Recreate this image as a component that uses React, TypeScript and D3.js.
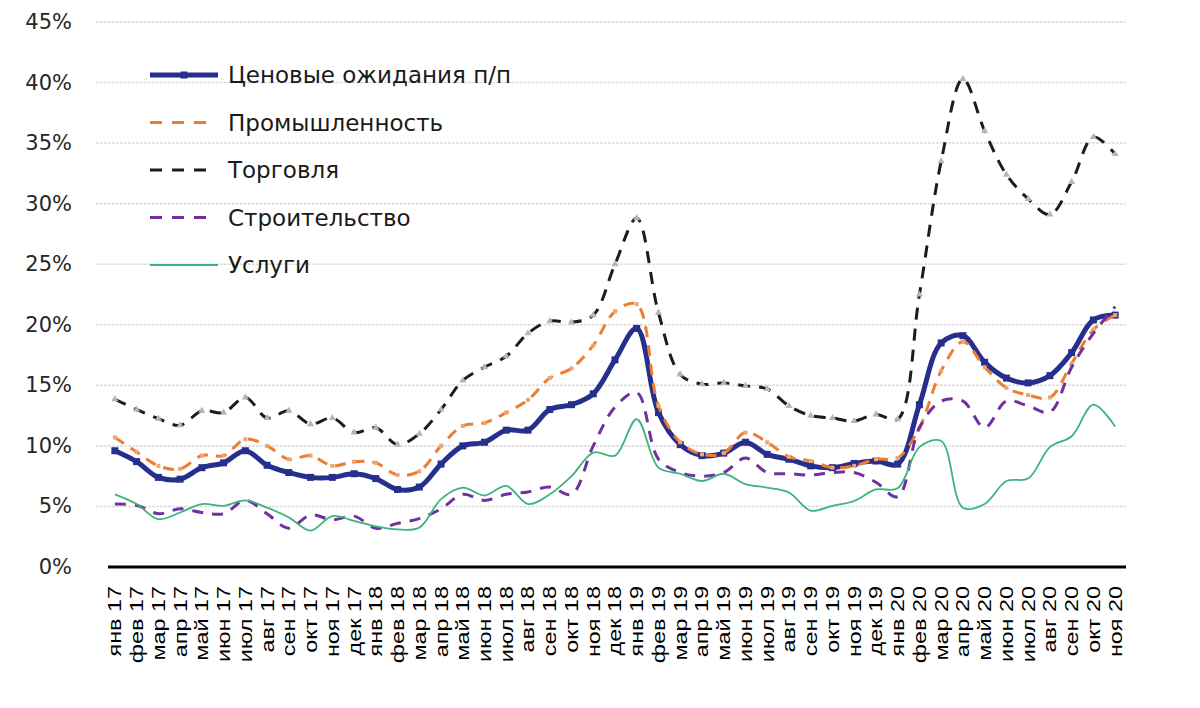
import { useEffect, useRef } from 'react';
import * as d3 from 'd3';

// Monthly labels, Jan 2017 – Nov 2020
const labels = [
  'янв 17', 'фев 17', 'мар 17', 'апр 17', 'май 17', 'июн 17', 'июл 17', 'авг 17', 'сен 17', 'окт 17', 'ноя 17', 'дек 17',
  'янв 18', 'фев 18', 'мар 18', 'апр 18', 'май 18', 'июн 18', 'июл 18', 'авг 18', 'сен 18', 'окт 18', 'ноя 18', 'дек 18',
  'янв 19', 'фев 19', 'мар 19', 'апр 19', 'май 19', 'июн 19', 'июл 19', 'авг 19', 'сен 19', 'окт 19', 'ноя 19', 'дек 19',
  'янв 20', 'фев 20', 'мар 20', 'апр 20', 'май 20', 'июн 20', 'июл 20', 'авг 20', 'сен 20', 'окт 20', 'ноя 20',
];

const priceExp = [
  9.6, 8.7, 7.4, 7.25, 8.2, 8.6, 9.6, 8.4, 7.8, 7.4, 7.4, 7.7,
  7.3, 6.4, 6.6, 8.5, 10.0, 10.3, 11.3, 11.3, 13.0, 13.4, 14.3, 17.1,
  19.7, 12.75, 10.1, 9.2, 9.4, 10.3, 9.3, 8.9, 8.35, 8.2, 8.55, 8.75,
  8.5, 13.4, 18.5, 19.1, 16.9, 15.6, 15.2, 15.8, 17.7, 20.4, 20.8,
];

const industry = [
  10.7, 9.5, 8.35, 8.1, 9.2, 9.2, 10.55, 10.0, 8.9, 9.2, 8.35, 8.7,
  8.6, 7.6, 7.9, 10.0, 11.65, 11.9, 12.75, 13.8, 15.6, 16.4, 18.3, 21.1,
  21.7, 13.3, 10.3, 9.3, 9.4, 11.1, 10.3, 9.1, 8.75, 8.2, 8.35, 8.9,
  9.0, 11.5, 16.2, 18.6, 16.5, 14.8, 14.2, 14.0, 16.8, 19.6, 20.8,
];

const trade = [
  13.85, 13.0, 12.25, 11.7, 12.9, 12.75, 14.0, 12.3, 12.9, 11.8, 12.3, 11.1,
  11.5, 10.1, 11.0, 13.0, 15.4, 16.5, 17.4, 19.3, 20.3, 20.2, 20.8, 25.0,
  28.8, 21.0, 15.9, 15.1, 15.2, 14.95, 14.7, 13.3, 12.5, 12.3, 12.05, 12.6,
  12.2, 22.5, 33.5, 40.3, 36.0, 32.4, 30.4, 29.1, 31.8, 35.5, 34.1,
];

const construction = [
  5.2, 5.1, 4.4, 4.8, 4.5, 4.4, 5.5, 4.4, 3.2, 4.3, 3.9, 4.2,
  3.2, 3.6, 4.0, 4.8, 6.0, 5.5, 6.0, 6.2, 6.6, 6.0, 10.0, 13.2,
  14.4, 8.9, 7.8, 7.5, 7.8, 9.0, 7.8, 7.7, 7.6, 7.8, 7.8, 7.0,
  5.8, 11.5, 13.7, 13.7, 11.5, 13.7, 13.3, 12.8, 16.5, 19.3, 21.5,
];

const services = [
  6.0, 5.2, 3.95, 4.5, 5.2, 5.05, 5.5, 4.9, 4.1, 3.0, 4.2, 3.8,
  3.35, 3.1, 3.25, 5.6, 6.55, 5.9, 6.7, 5.2, 6.0, 7.5, 9.45, 9.2,
  12.2, 8.2, 7.7, 7.1, 7.7, 6.85, 6.55, 6.15, 4.65, 5.05, 5.45, 6.4,
  6.5, 9.9, 10.4, 4.9, 5.2, 7.1, 7.3, 9.9, 10.8, 13.4, 11.6,
];

const yTicks = [0, 5, 10, 15, 20, 25, 30, 35, 40, 45];

interface Series {
  name: string;
  values: number[];
  color: string;
  width: number;
  dash: string | null;
  marker: 'square' | 'small' | 'triangle' | null;
  markerColor?: string;
}

const series: Series[] = [
  { name: 'Ценовые ожидания п/п', values: priceExp, color: '#262f8c', width: 5, dash: null, marker: 'square' },
  { name: 'Промышленность', values: industry, color: '#ed7d31', width: 3, dash: '11,8', marker: 'small', markerColor: '#f2a46e' },
  { name: 'Торговля', values: trade, color: '#1c1c1c', width: 3, dash: '12,9', marker: 'triangle', markerColor: '#b5b5b5' },
  { name: 'Строительство', values: construction, color: '#7030a0', width: 3, dash: '11,9', marker: null },
  { name: 'Услуги', values: services, color: '#3cb47c', width: 1.8, dash: null, marker: null },
];

export default function App() {
  const svgRef = useRef<SVGSVGElement>(null);

  useEffect(() => {
    if (!svgRef.current) return;
    const svg = d3.select(svgRef.current);
    svg.selectAll('*').remove();

    const x = d3.scaleBand<string>().domain(labels).range([104, 1126]);
    const y = d3.scaleLinear().domain([0, 45]).range([567, 22]);
    const cx = (i: number) => x(labels[i])! + x.bandwidth() / 2;

    svg.append('rect').attr('width', 1200).attr('height', 708).attr('fill', '#ffffff');

    // Gridlines
    svg.append('g')
      .selectAll('line')
      .data(yTicks.filter((t) => t > 0))
      .enter()
      .append('line')
      .attr('x1', 96)
      .attr('x2', 1126)
      .attr('y1', (d) => y(d))
      .attr('y2', (d) => y(d))
      .attr('stroke', '#dcdcdc')
      .attr('stroke-width', 1.5)
      .attr('stroke-dasharray', '3,1');

    // Y labels
    svg.append('g')
      .selectAll('text')
      .data(yTicks)
      .enter()
      .append('text')
      .attr('x', 72)
      .attr('y', (d) => y(d))
      .attr('text-anchor', 'end')
      .attr('dominant-baseline', 'central')
      .attr('font-family', '"DejaVu Sans", Verdana, sans-serif')
      .attr('font-size', 21)
      .attr('fill', '#262626')
      .text((d) => `${d}%`);

    // X axis line
    svg.append('line')
      .attr('x1', 108)
      .attr('x2', 1126)
      .attr('y1', y(0))
      .attr('y2', y(0))
      .attr('stroke', '#000')
      .attr('stroke-width', 3);

    // X labels (rotated)
    svg.append('g')
      .selectAll('text')
      .data(labels)
      .enter()
      .append('text')
      .attr('transform', (_, i) => `translate(${cx(i)},586) rotate(-90) scale(1.3,1)`)
      .attr('text-anchor', 'end')
      .attr('dominant-baseline', 'central')
      .attr('font-family', '"Liberation Sans", Arial, sans-serif')
      .attr('font-size', 18)
      .attr('fill', '#000')
      .text((d) => d);

    const line = d3.line<number>()
      .x((_, i) => cx(i))
      .y((d) => y(d))
      .curve(d3.curveCatmullRom.alpha(0.5));

    const tri = d3.symbol().type(d3.symbolTriangle).size(22);

    series.forEach((s) => {
      const g = svg.append('g');
      g.append('path')
        .datum(s.values)
        .attr('d', line)
        .attr('fill', 'none')
        .attr('stroke', s.color)
        .attr('stroke-width', s.width)
        .attr('stroke-dasharray', s.dash)
        .attr('stroke-linejoin', 'round');

      if (s.marker === 'square') {
        g.selectAll('rect')
          .data(s.values)
          .enter()
          .append('rect')
          .attr('x', (_, i) => cx(i) - 3.5)
          .attr('y', (d) => y(d) - 3.5)
          .attr('width', 7)
          .attr('height', 7)
          .attr('fill', s.color);
      } else if (s.marker === 'small') {
        g.selectAll('rect')
          .data(s.values)
          .enter()
          .append('rect')
          .attr('x', (_, i) => cx(i) - 2)
          .attr('y', (d) => y(d) - 2)
          .attr('width', 4)
          .attr('height', 4)
          .attr('fill', s.markerColor!);
      } else if (s.marker === 'triangle') {
        g.selectAll('path.m')
          .data(s.values)
          .enter()
          .append('path')
          .attr('class', 'm')
          .attr('d', tri)
          .attr('transform', (d, i) => `translate(${cx(i)},${y(d)})`)
          .attr('fill', s.markerColor!);
      }
    });

    // Legend
    const legend = svg.append('g');
    series.forEach((s, i) => {
      const ly = 75 + i * 47.5;
      legend.append('line')
        .attr('x1', 150)
        .attr('x2', s.dash ? 210 : 218)
        .attr('y1', ly)
        .attr('y2', ly)
        .attr('stroke', s.color)
        .attr('stroke-width', s.width)
        .attr('stroke-dasharray', s.dash ? '12,10' : null);
      if (s.marker === 'square') {
        legend.append('rect')
          .attr('x', 180.5)
          .attr('y', ly - 3.5)
          .attr('width', 7)
          .attr('height', 7)
          .attr('fill', s.color);
      }
      legend.append('text')
        .attr('x', 228)
        .attr('y', ly)
        .attr('dominant-baseline', 'central')
        .attr('font-family', '"DejaVu Sans", Verdana, sans-serif')
        .attr('font-size', 23)
        .attr('fill', '#1a1a1a')
        .text(s.name);
    });
  }, []);

  return (
    <svg
      ref={svgRef}
      width={1200}
      height={708}
      style={{ position: 'absolute', left: 0, top: 0, background: '#fff' }}
    />
  );
}
